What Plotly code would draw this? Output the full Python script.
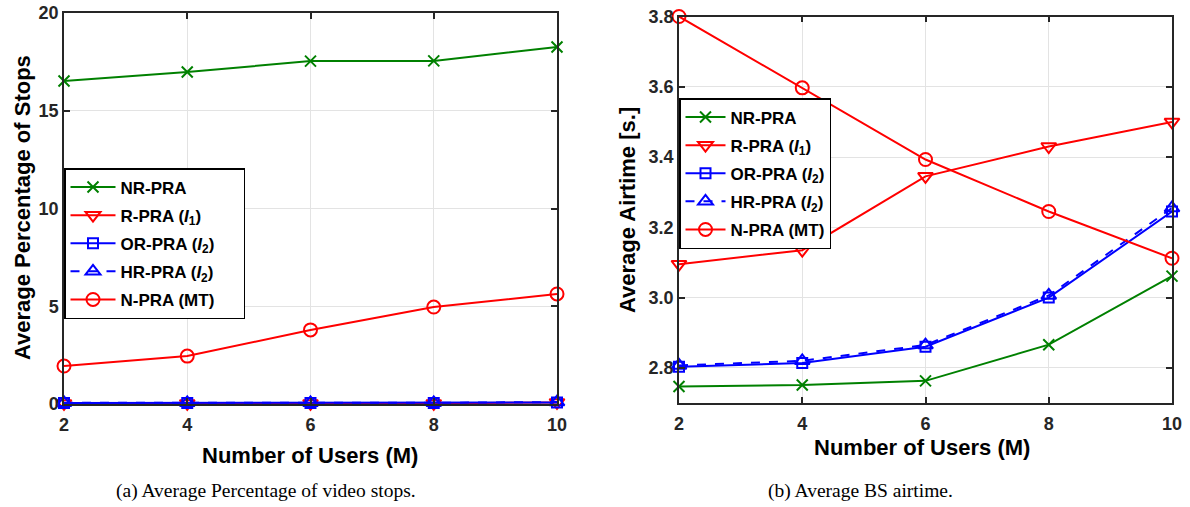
import plotly.graph_objects as go

users = [2, 4, 6, 8, 10]

# (a) Average percentage of video stops
stops_nr = [16.52, 16.98, 17.54, 17.55, 18.26]
stops_r = [0.03, 0.03, 0.03, 0.03, 0.08]
stops_or = [0.05, 0.05, 0.05, 0.05, 0.08]
stops_hr = [0.06, 0.06, 0.06, 0.06, 0.10]
stops_n = [1.94, 2.45, 3.79, 4.96, 5.63]

# (b) Average BS airtime [s.]
air_nr = [2.747, 2.751, 2.763, 2.866, 3.061]
air_r = [3.095, 3.135, 3.345, 3.430, 3.500]
air_or = [2.803, 2.814, 2.860, 3.000, 3.245]
air_hr = [2.807, 2.820, 2.865, 3.006, 3.255]
air_n = [3.800, 3.597, 3.393, 3.245, 3.112]

names = ["NR-PRA", "R-PRA (<i>I</i><sub>1</sub>)", "OR-PRA (<i>I</i><sub>2</sub>)",
         "HR-PRA (<i>I</i><sub>2</sub>)", "N-PRA (MT)"]

GREEN = "#008000"
RED = "#ff0000"
BLUE = "#0000ff"
styles = [
    dict(color=GREEN, symbol="x-thin-open", size=11, dash="solid"),
    dict(color=RED, symbol="triangle-down-open", size=13, dash="solid"),
    dict(color=BLUE, symbol="square-open", size=10, dash="solid"),
    dict(color=BLUE, symbol="triangle-up-open", size=13, dash="dash"),
    dict(color=RED, symbol="circle-open", size=13, dash="solid"),
]

fig = go.Figure()
for series, xa, ya, leg, pad in [
    ([stops_nr, stops_r, stops_or, stops_hr, stops_n], "x", "y", "legend", "\u00a0" * 5),
    ([air_nr, air_r, air_or, air_hr, air_n], "x2", "y2", "legend2", ""),
]:
    for i, (vals, st, nm) in enumerate(zip(series, styles, names)):
        fig.add_trace(go.Scatter(
            x=users, y=vals, name=nm + pad, mode="lines+markers",
            xaxis=xa, yaxis=ya, legend=leg, legendgroup=f"{leg}{i}",
            line=dict(color=st["color"], width=2, dash=st["dash"]),
            marker=dict(symbol=st["symbol"], size=st["size"], color=st["color"],
                        line=dict(width=2, color=st["color"])),
            cliponaxis=False,
        ))

TICKFONT = dict(family="Liberation Sans", size=18, color="#262626", weight="bold")
axis_common = dict(
    showline=True, linecolor="#262626", linewidth=1.5, mirror="ticks",
    ticks="inside", ticklen=6, tickwidth=1.5, tickcolor="#262626",
    showgrid=True, gridcolor="#e3e3e3", gridwidth=1.2,
    zeroline=False, tickfont=TICKFONT, automargin=False,
)

W, H = 1190, 507
def px(xp):
    return xp / W
def py(yp):
    return 1 - yp / H

LEGFONT = dict(family="Liberation Sans", size=17, color="#000000", weight="bold")
fig.update_layout(
    width=W, height=H, margin=dict(l=0, r=0, t=0, b=0, autoexpand=False),
    paper_bgcolor="white", plot_bgcolor="white",
    showlegend=True,
    xaxis=dict(domain=[px(64), px(557)], range=[2, 10], tickvals=users,
               ticklabelstandoff=4, **axis_common),
    yaxis=dict(domain=[py(404), py(13)], range=[0, 20], tickvals=[0, 5, 10, 15, 20], **axis_common),
    xaxis2=dict(domain=[px(679), px(1172)], range=[2, 10], tickvals=users, anchor="y2",
                ticklabelstandoff=4, **axis_common),
    yaxis2=dict(domain=[py(403), py(16.5)], range=[2.7, 3.8], tickvals=[2.8, 3.0, 3.2, 3.4, 3.6, 3.8],
                ticktext=["2.8", "3.0", "3.2", "3.4", "3.6", "3.8"], anchor="x2", **axis_common),
    legend=dict(x=px(64), y=py(168), xanchor="left", yanchor="top",
                bgcolor="white", bordercolor="#000000", borderwidth=1.5,
                font=LEGFONT, traceorder="grouped", tracegroupgap=3, itemwidth=45),
    legend2=dict(x=px(679), y=py(98), xanchor="left", yanchor="top",
                 bgcolor="white", bordercolor="#000000", borderwidth=1.5,
                 font=LEGFONT, traceorder="grouped", tracegroupgap=3, itemwidth=40),
)

TITLEFONT = dict(family="Liberation Sans", size=22, color="#000000", weight="bold")
CAPFONT = dict(family="Liberation Serif", size=19.5, color="#000000")
ann = [
    dict(text="Number of Users (M)", x=px(310), y=py(455), font=TITLEFONT, textangle=0),
    dict(text="Number of Users (M)", x=px(922), y=py(447), font=TITLEFONT, textangle=0),
    dict(text="Average Percentage of Stops", x=px(22), y=py(208), font=TITLEFONT, textangle=-90),
    dict(text="Average Airtime [s.]", x=px(627), y=py(210), font=TITLEFONT, textangle=-90),
    dict(text="(a) Average Percentage of video stops.", x=px(266), y=py(491), font=CAPFONT, textangle=0),
    dict(text="(b) Average BS airtime.", x=px(860), y=py(491), font=CAPFONT, textangle=0),
]
for a in ann:
    fig.add_annotation(xref="paper", yref="paper", showarrow=False,
                       xanchor="center", yanchor="middle", **a)

fig.write_html("out.html")
